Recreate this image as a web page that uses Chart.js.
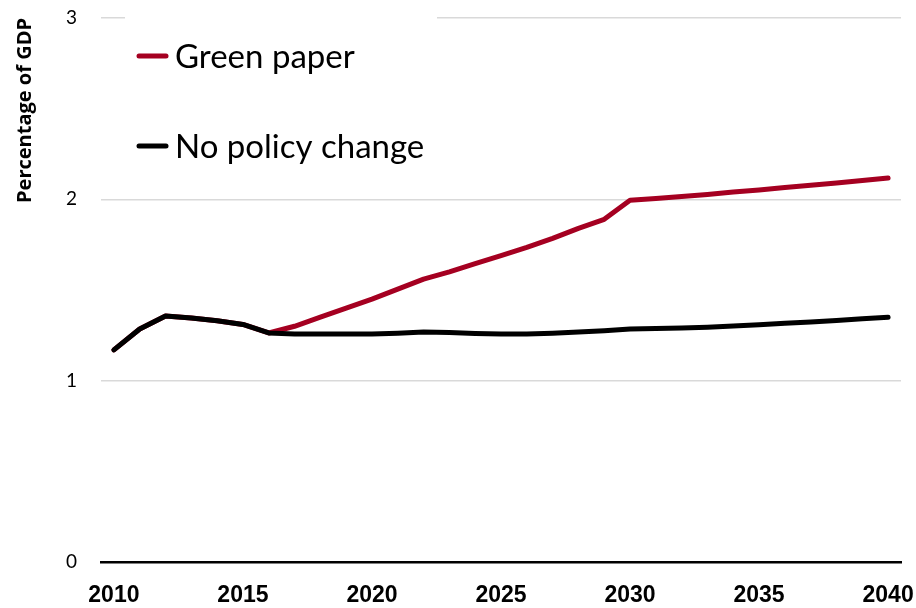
<!DOCTYPE html>
<html>
<head>
<meta charset="utf-8">
<script src="https://cdn.jsdelivr.net/npm/chart.js@4"></script>
<style>
  html, body { margin: 0; padding: 0; background: #fff; }
  #wrap { width: 916px; height: 608px; }
</style>
</head>
<body>
<div id="wrap"><canvas id="chart" width="916" height="608"></canvas></div>
<script>
// ====== DATA ======
const years = [];
for (let y = 2010; y <= 2040; y++) years.push(String(y));

const greenPaper = [
  1.17, 1.285, 1.357, 1.346, 1.33, 1.31, 1.263, 1.30, 1.35, 1.40,
  1.45, 1.505, 1.56, 1.60, 1.645, 1.69, 1.735, 1.785, 1.84, 1.89,
  1.995, 2.005, 2.015, 2.027, 2.04, 2.052, 2.065, 2.078, 2.09, 2.104,
  2.118
];
const noPolicyChange = [
  1.17, 1.285, 1.357, 1.346, 1.33, 1.31, 1.263, 1.258, 1.258, 1.258,
  1.257, 1.262, 1.268, 1.265, 1.26, 1.258, 1.258, 1.262, 1.268, 1.275,
  1.285, 1.287, 1.29, 1.295, 1.302, 1.309, 1.316, 1.324, 1.332, 1.341,
  1.35
];
const yTicks = [0, 1, 2, 3];

const RED = "#a50021";
const BLACK = "#000000";
const FONT = "Lato, 'Open Sans', sans-serif";

// ====== LEGEND (drawn inside plot, upper left) ======
const innerLegend = {
  id: "innerLegend",
  afterDraw(chart) {
    const ctx = chart.ctx;
    const items = [chart.data.datasets[0], chart.data.datasets[1]];
    ctx.save();
    ctx.fillStyle = "#fff";
    ctx.fillRect(125, 8, 312, 165);
    items.forEach((ds, i) => {
      const y = 56 + i * 90;
      ctx.strokeStyle = ds.borderColor;
      ctx.lineWidth = 5;
      ctx.lineCap = "round";
      ctx.beginPath();
      ctx.moveTo(139, y);
      ctx.lineTo(166, y);
      ctx.stroke();
      ctx.fillStyle = "#000";
      ctx.font = "33px " + FONT;
      ctx.textBaseline = "middle";
      ctx.fillText(ds.label, 175, y + 1);
    });
    ctx.restore();
  }
};

// ====== CHART ======
new Chart(document.getElementById("chart"), {
  type: "line",
  data: {
    labels: years,
    datasets: [
      { label: "Green paper", data: greenPaper, borderColor: RED, borderWidth: 5,
        pointRadius: 0, tension: 0, borderCapStyle: "round", borderJoinStyle: "round", order: 2 },
      { label: "No policy change", data: noPolicyChange, borderColor: BLACK, borderWidth: 5,
        pointRadius: 0, tension: 0, borderCapStyle: "round", borderJoinStyle: "round", order: 1 }
    ]
  },
  options: {
    responsive: false,
    animation: false,
    layout: { padding: { top: 18, right: 15, bottom: 0, left: 0 } },
    plugins: { legend: { display: false }, tooltip: { enabled: false } },
    scales: {
      x: {
        offset: true,
        afterFit: (s) => { s.height = 46; s.paddingLeft = 0; s.paddingRight = 0; },
        grid: { display: false },
        border: { display: true, color: BLACK, width: 2.5 },
        ticks: {
          autoSkip: false,
          maxRotation: 0,
          color: "#000",
          padding: 12,
          font: { family: "'Liberation Sans', 'Open Sans', sans-serif", size: 23, weight: "bold" },
          callback: (v, i) => (i % 5 === 0 ? years[i] : null)
        }
      },
      y: {
        min: 0,
        max: 3,
        afterBuildTicks: (s) => { s.ticks = yTicks.map(v => ({ value: v })); },
        afterFit: (s) => { s.width = 101; s.paddingTop = 0; s.paddingBottom = 0; },
        grid: {
          drawTicks: false,
          lineWidth: 1.5,
          color: (c) => (c.tick && c.tick.value === 0 ? "rgba(0,0,0,0)" : "#d9d9d9")
        },
        border: { display: false },
        ticks: {
          color: "#000",
          padding: 24,
          font: { family: FONT, size: 19 }
        },
        title: {
          display: true,
          text: "Percentage of GDP",
          color: "#000",
          align: "end",
          padding: { top: 13, bottom: 20 },
          font: { family: "'Open Sans', sans-serif", size: 20, weight: "bold" }
        }
      }
    }
  },
  plugins: [innerLegend]
});
</script>
</body>
</html>
